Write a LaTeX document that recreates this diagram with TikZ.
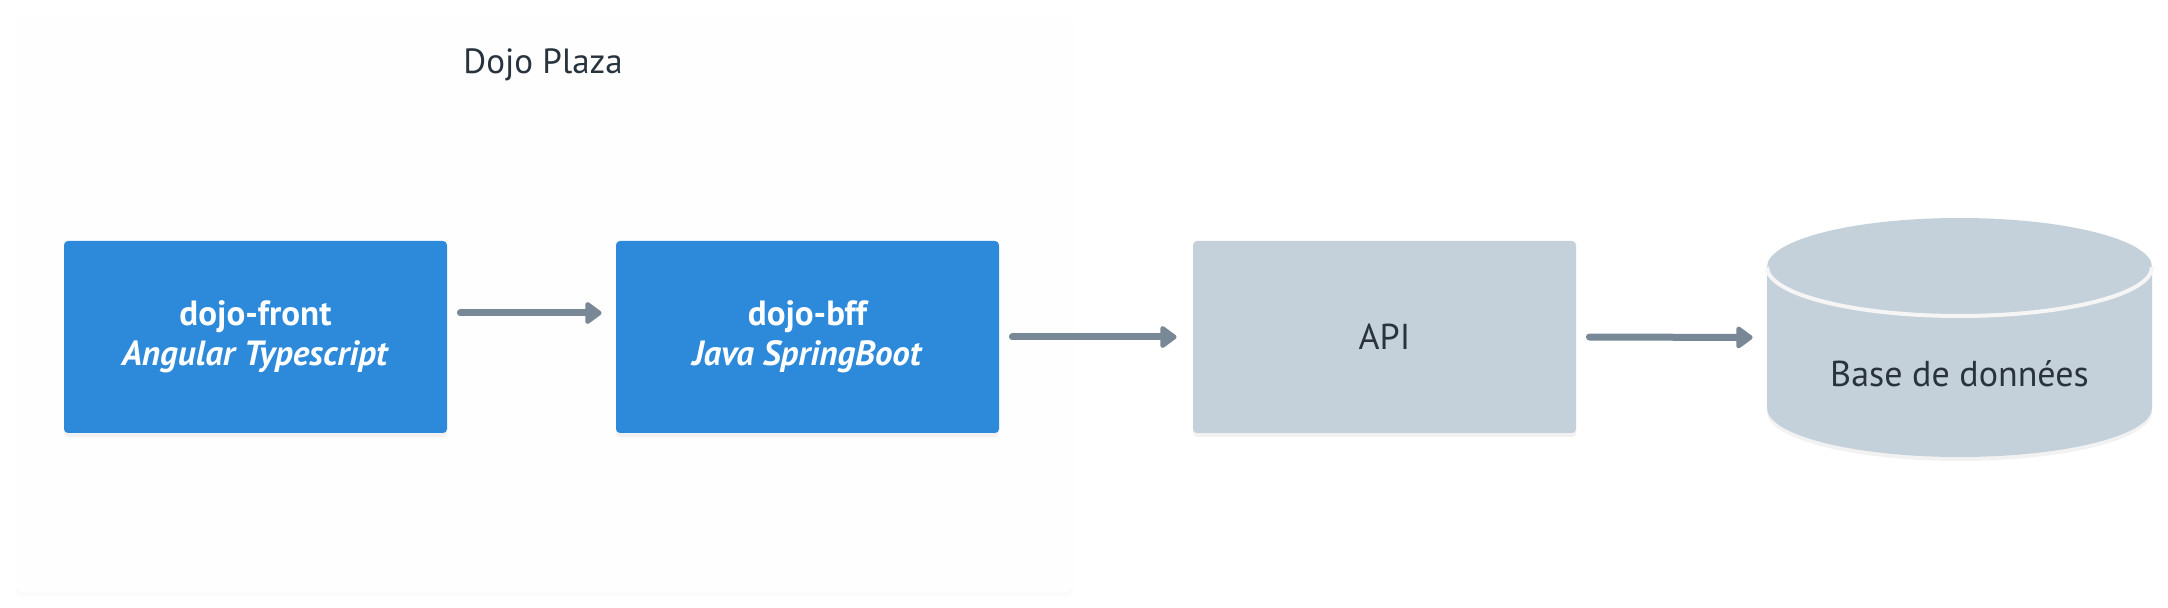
\documentclass[tikz,border=0pt]{standalone}
\usepackage{fontspec}
\setmainfont{PT Sans}
\usepackage{tikz}
\usetikzlibrary{arrows.meta}
\usetikzlibrary{positioning}
\usetikzlibrary{shadows}
\definecolor{plazabg}{HTML}{FEFEFE}
\definecolor{boxblue}{HTML}{2D89DA}
\definecolor{boxgray}{HTML}{C4D1DB}
\definecolor{arrowgray}{HTML}{788896}
\definecolor{darktext}{HTML}{29333D}

\begin{document}
\begin{tikzpicture}[x=0.5pt,y=-0.5pt,
       box/.style={rectangle,rounded corners=2pt,minimum width=191.5pt,minimum height=96pt,
         align=center,inner sep=0pt,font=\fontsize{18}{20}\selectfont,
         drop shadow={opacity=0.10,shadow xshift=0pt,shadow yshift=-2pt}},
       appbox/.style={box,fill=boxblue,text=white,font=\fontsize{17.5}{20}\selectfont\bfseries},
       extbox/.style={box,fill=boxgray,text=darktext},
       flow/.style={-{Triangle[length=9pt,width=12.5pt,round]},line width=3.5pt,line cap=round,
         draw=arrowgray,shorten <=6.5pt,shorten >=7pt}]
       \useasboundingbox (0,0) rectangle (2168,608);
       \fill[white] (0,0) rectangle (2168,608);
       % zone Dojo Plaza
       \node[rectangle,rounded corners=3pt,fill=plazabg,minimum width=528pt,minimum height=288.5pt,
         drop shadow={opacity=0.03,shadow xshift=0pt,shadow yshift=-2pt}] (plaza) at (544,303.5) {};
       \node[text=darktext,font=\fontsize{17.5}{20}\selectfont] (plazatitle) at (543,65) {Dojo Plaza};
       % composants
       \node[appbox] (front) at (255.5,337) {dojo-front\\\textit{Angular Typescript}};
       \node[appbox] (bff) at (807.5,337) {dojo-bff\\\textit{Java SpringBoot}};
       \node[extbox] (api) at (1384.5,337) {API};
       % base de donnees
       \fill[black,opacity=0.05] (1767,271) -- (1767,412) arc[start angle=180,end angle=360,x radius=96.25pt,y radius=24.5pt]
         -- (2152,271) arc[start angle=0,end angle=180,x radius=96.25pt,y radius=24.5pt] -- cycle;
       \fill[boxgray] (1767,267) -- (1767,408) arc[start angle=180,end angle=360,x radius=96.25pt,y radius=24.5pt]
         -- (2152,267) arc[start angle=0,end angle=180,x radius=96.25pt,y radius=24.5pt] -- cycle;
       \draw[white!96!black,line width=2pt] (1767,267) arc[start angle=180,end angle=360,x radius=96.25pt,y radius=24.5pt];
       \node[rectangle,minimum width=192.5pt,minimum height=119.5pt,inner sep=0pt] (db) at (1959.5,337.5) {};
       \node[text=darktext,font=\fontsize{18}{20}\selectfont] (dblabel) at (1959.5,374) {Base de données};
       % liaisons
       \draw[flow] ([yshift=12pt]front.east) -- ([yshift=12pt]bff.west);
       \draw[flow,shorten >=8pt] (bff.east) -- (api.west);
       \draw[flow] (api.east) -- (db.west);
\end{tikzpicture}
\end{document}
